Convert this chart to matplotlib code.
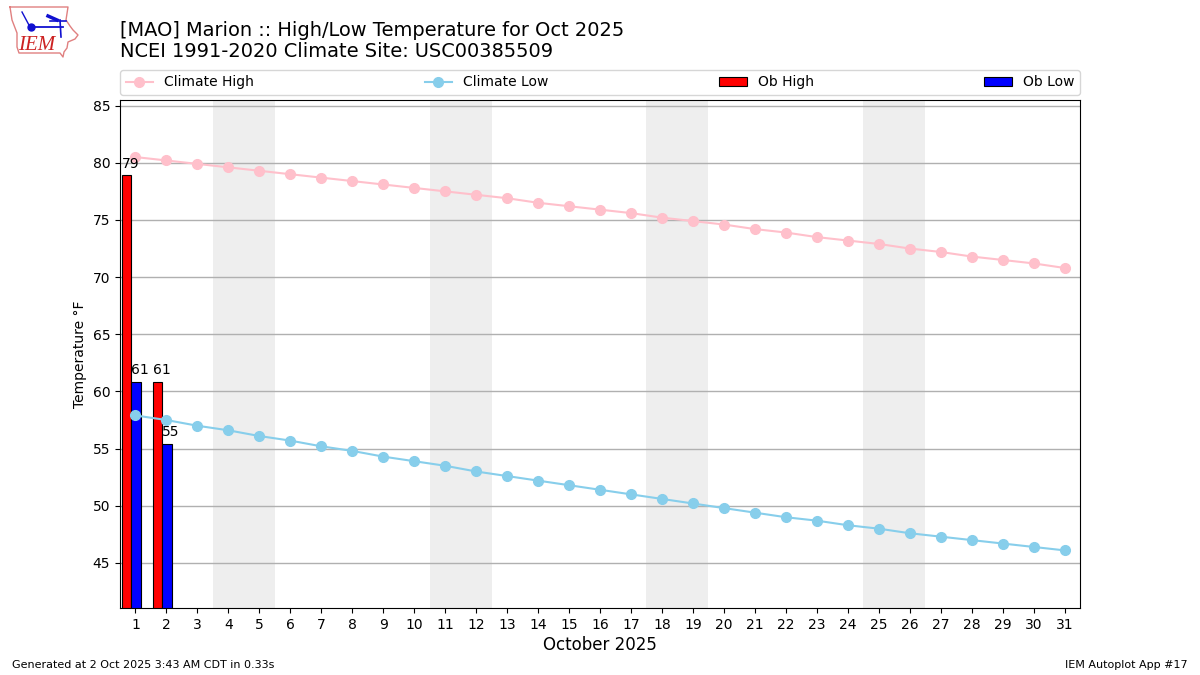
import numpy as np
import matplotlib
matplotlib.use('Agg')
import matplotlib.pyplot as plt

days = np.arange(1, 32)
climate_high = [80.5, 80.2, 79.9, 79.6, 79.3, 79.0, 78.7, 78.4, 78.1, 77.8, 77.5, 77.2, 76.9, 76.5, 76.2, 75.9,
                75.6, 75.2, 74.9, 74.6, 74.2, 73.9, 73.5, 73.2, 72.9, 72.5, 72.2, 71.8, 71.5, 71.2, 70.8]
climate_low = [57.9, 57.5, 57.0, 56.6, 56.1, 55.7, 55.2, 54.8, 54.3, 53.9, 53.5, 53.0, 52.6, 52.2, 51.8, 51.4,
               51.0, 50.6, 50.2, 49.8, 49.4, 49.0, 48.7, 48.3, 48.0, 47.6, 47.3, 47.0, 46.7, 46.4, 46.1]
ob_days = [1, 2]
ob_high = [78.9, 60.8]
ob_low = [60.8, 55.4]
ob_high_labels = ['79', '61']
ob_low_labels = ['61', '55']
weekends = [(3.5, 5.5), (10.5, 12.5), (17.5, 19.5), (24.5, 26.5)]

# logo outline in pixels, origin top left of the logo box
iowa_x = [10, 68, 66, 70, 73, 78, 75, 68, 67, 64, 63, 60, 19, 17, 17, 12, 10]
iowa_y = [7, 7, 20, 26, 30, 35, 39, 42, 48, 52, 57, 53, 53, 47, 33, 20, 7]

fig = plt.figure(figsize=(12, 6.75), dpi=100)
ax = fig.add_axes([120 / 1200, 1 - 608 / 675, 960 / 1200, 508 / 675])

for start, end in weekends:
    ax.axvspan(start, end, color='#eeeeee', lw=0, zorder=0)

ax.set_axisbelow(True)
ax.grid(axis='y', color='#b0b0b0', lw=1)

ax.plot(days, climate_high, color='pink', marker='o', ms=7, lw=1.5, label='Climate High', zorder=3)
ax.plot(days, climate_low, color='skyblue', marker='o', ms=7, lw=1.5, label='Climate Low', zorder=3)

ob_x = np.array(ob_days)
ax.bar(ob_x - 0.43, ob_high, width=0.3, align='edge', color='red', edgecolor='black', lw=0.8, label='Ob High', zorder=2)
ax.bar(ob_x - 0.13, ob_low, width=0.3, align='edge', color='blue', edgecolor='black', lw=0.8, label='Ob Low', zorder=2)

for i in range(len(ob_days)):
    ax.text(ob_x[i] - 0.43, ob_high[i] + 0.42, ob_high_labels[i], ha='left', va='bottom', fontsize=10, zorder=4)
    ax.text(ob_x[i] - 0.13, ob_low[i] + 0.42, ob_low_labels[i], ha='left', va='bottom', fontsize=10, zorder=4)

ax.set_xlim(0.5, 31.5)
ax.set_ylim(41.06, 85.49)
ax.set_xticks(days)
ax.set_yticks(range(45, 90, 5))
ax.set_ylabel('Temperature °F')
ax.set_xlabel('October 2025', fontsize=12, labelpad=3)

ax.legend(loc='lower left', bbox_to_anchor=(0, 1.01, 1, 0.05), mode='expand', ncol=4, borderaxespad=0)

fig.text(120 / 1200, 1 - 61 / 675, '[MAO] Marion :: High/Low Temperature for Oct 2025\nNCEI 1991-2020 Climate Site: USC00385509',
         fontsize=13.95, ha='left', va='bottom', linespacing=1.12)
fig.text(12 / 1200, 1 - 670 / 675, 'Generated at 2 Oct 2025 3:43 AM CDT in 0.33s', fontsize=8, ha='left', va='bottom')
fig.text(1188 / 1200, 1 - 670 / 675, 'IEM Autoplot App #17', fontsize=8, ha='right', va='bottom')

# IEM logo
logo = fig.add_axes([0, 1 - 60 / 675, 80 / 1200, 60 / 675])
logo.set_xlim(0, 80)
logo.set_ylim(60, 0)
logo.axis('off')
logo.plot(iowa_x, iowa_y, color='#e08080', lw=1)
logo.plot([31, 63], [27, 27], color='#1010d0', lw=1.3)
logo.plot([60, 61], [20, 37], color='#1010d0', lw=1.2)
logo.plot([50, 66], [21, 21], color='#1010d0', lw=1.2)
logo.plot([22, 30], [12, 27], color='#1010d0', lw=1)
logo.plot([31], [27], marker='o', ms=5, color='#1010d0')
logo.plot([48, 57], [16, 20], color='#1010d0', lw=2.5)
logo.text(37, 45, 'IEM', color='#cc2222', fontsize=15, family='Liberation Serif', style='italic', ha='center', va='center')

fig.savefig('out.png', dpi=100)
